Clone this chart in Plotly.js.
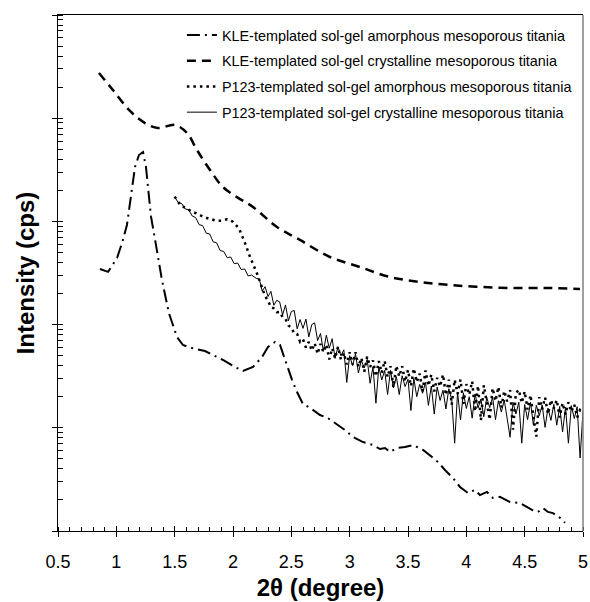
<!DOCTYPE html>
<html>
<head>
<meta charset="utf-8">
<script src="https://cdn.plot.ly/plotly-3.0.1.min.js"></script>
<style>html,body{margin:0;padding:0;background:#fff;}#chart{width:590px;height:602px;}</style>
</head>
<body>
<div id="chart"></div>
<script>
// Series names
const seriesNames = [
  "KLE-templated sol-gel amorphous mesoporous titania",
  "KLE-templated sol-gel crystalline mesoporous titania",
  "P123-templated sol-gel amorphous mesoporous titania",
  "P123-templated sol-gel crystalline mesoporous titania"
];

// KLE amorphous (dash-dot)
const kleAmX = [0.860,0.929,1.006,1.049,1.091,1.134,1.160,1.194,1.229,1.254,1.297,1.340,1.391,1.451,1.520,1.571,1.674,1.760,1.914,2.017,2.086,2.171,2.249,2.300,2.360,2.403,2.446,2.506,2.549,2.600,2.660,2.746,2.814,2.874,2.960,3.029,3.114,3.200,3.260,3.303,3.346,3.406,3.474,3.543,3.629,3.706,3.757,3.817,3.886,3.946,4.014,4.074,4.117,4.177,4.228,4.288,4.374,4.460,4.563,4.614,4.657,4.700,4.743,4.803,4.846];
const kleAmY = [346,324,442,618,923,2014,3365,4400,4700,3365,1117,590,270,129,75.8,63.4,58.0,55.5,45.4,38.8,35.5,38.8,48.5,60.7,67.8,63.4,45.4,29.1,22.2,17.0,15.6,13.3,12.4,11.1,9.52,8.15,7.28,6.81,6.23,6.37,5.83,6.37,6.51,6.81,6.10,5.21,4.66,3.90,3.26,2.67,2.33,2.50,2.23,2.39,2.09,2.14,1.91,1.87,1.60,1.53,1.67,1.53,1.49,1.34,1.20];

// KLE crystalline (dashed)
const kleCrX = [0.851,0.971,1.117,1.246,1.357,1.503,1.606,1.691,1.803,1.914,2.034,2.171,2.377,2.574,2.831,3.089,3.346,3.603,3.860,4.143,4.434,4.717,4.974];
const kleCrY = [27400,18750,11750,8970,8040,8590,7190,4920,3150,2150,1720,1380,883,661,452,361,289,259,242,231,226,226,221];

// P123 amorphous (dotted)
const p123AmX = [1.50,1.55,1.60,1.65,1.70,1.75,1.80,1.85,1.90,1.95,2.00,2.05,2.10,2.15,
  2.200,2.225,2.250,2.275,2.300,2.325,2.350,2.375,2.400,2.425,2.450,2.475,2.500,2.525,2.550,2.575,2.600,2.625,2.650,2.675,
  2.700,2.725,2.750,2.775,2.800,2.825,2.850,2.875,2.900,2.925,2.950,2.975,3.000,3.025,3.050,3.075,3.100,3.125,3.150,3.175,
  3.200,3.225,3.250,3.275,3.300,3.325,3.350,3.375,3.400,3.425,3.450,3.475,3.500,3.525,3.550,3.575,3.600,3.625,3.650,3.675,
  3.700,3.725,3.750,3.775,3.800,3.825,3.850,3.875,3.900,3.925,3.950,3.975,4.000,4.025,4.050,4.075,4.100,4.125,4.150,4.175,
  4.200,4.225,4.250,4.275,4.300,4.325,4.350,4.375,4.400,4.425,4.450,4.475,4.500,4.525,4.550,4.575,4.600,4.625,4.650,4.675,
  4.700,4.725,4.750,4.775,4.800,4.825,4.850,4.875,4.900,4.925,4.950,4.975,5.000];
const p123AmY = [1740,1430,1340,1240,1180,1100,1060,1020,1015,1050,990,860,630,440,
  325,274,232,189,171,147,144,132,133,118,113,98,94,82,81,68,72,60,68,56,
  66,52,65,54,64,46,59,47,61,46,53,41,54,41,54,39,47.5,35,49,38.8,
  45,31.4,44.3,34,44.6,31,39.5,24.7,39.9,31.4,39.5,28,36.3,25.4,37.6,27.7,33.4,22.4,35.9,25.5,
  32.8,22.5,30.5,25.1,32.8,20.7,29.3,16.8,29.2,21.3,29.3,17.1,26.5,20.9,28.2,14.4,25.6,11.8,25.8,17.7,
  12,24.2,18.2,24.9,15.7,22.8,18,23.2,9.6,21.7,23.4,17.4,22.5,15,20.8,12.9,8.2,19.8,15.1,19.7,
  13.6,18.6,15.4,18.6,12.6,17.4,13.5,17.7,14.3,16.8,12.6,14.9,14.3];

// P123 crystalline (solid)
const p123CrX = [1.50,1.53,1.56,1.59,1.62,1.65,1.68,1.71,1.74,1.77,1.80,1.83,1.86,1.89,1.92,1.95,1.98,2.01,2.04,2.07,2.10,2.13,2.16,
  2.200,2.225,2.250,2.275,2.300,2.325,2.350,2.375,2.400,2.425,2.450,2.475,2.500,2.525,2.550,2.575,2.600,2.625,2.650,2.675,
  2.700,2.725,2.750,2.775,2.800,2.825,2.850,2.875,2.900,2.925,2.950,2.975,3.000,3.025,3.050,3.075,3.100,3.125,3.150,3.175,
  3.200,3.225,3.250,3.275,3.300,3.325,3.350,3.375,3.400,3.425,3.450,3.475,3.500,3.525,3.550,3.575,3.600,3.625,3.650,3.675,
  3.700,3.725,3.750,3.775,3.800,3.825,3.850,3.875,3.900,3.925,3.950,3.975,4.000,4.025,4.050,4.075,4.100,4.125,4.150,4.175,
  4.200,4.225,4.250,4.275,4.300,4.325,4.350,4.375,4.400,4.425,4.450,4.475,4.500,4.525,4.550,4.575,4.600,4.625,4.650,4.675,
  4.700,4.725,4.750,4.775,4.800,4.825,4.850,4.875,4.900,4.925,4.950,4.975,5.000];
const p123CrY = [1720,1530,1490,1320,1300,1130,1090,930,910,770,755,635,620,522,512,445,452,390,394,342,346,296,302,
  280,278,211,233,187,210,154,172,166,124,155,109,134,137,91,112,92,113,76,100,
  104,70,82,55,79,59,73,47,61,50,57,27.5,50,40,52,34,45,38,46,27,
  39,17.3,39,29,36,21,36,24.3,31.3,21,31.9,25.1,29.5,14.7,30.1,20,26.4,21.6,27.6,16.5,
  25.4,13.6,24.8,18.4,23.1,15.2,23.9,18.5,7.1,22,11.9,21.8,15.4,20,12.4,21.3,15.6,19,12.8,19.7,
  15.7,19.8,12,18.3,14.2,18.6,12.3,8.1,17.7,13.6,17.7,7.1,16.8,12,17.6,10.6,16.5,13.1,16.6,10.1,
  15.5,11.8,16.9,10.6,16.1,9.1,15.8,7.1,16.4,12.3,16,5.1,14.5];

// Axis tick labels
const xTickVals = [0.5,1,1.5,2,2.5,3,3.5,4,4.5,5];
const xTickText = ["0.5","1","1.5","2","2.5","3","3.5","4","4.5","5"];

const FONT = "Liberation Sans, Arial, sans-serif";

const traces = [
  {x: kleAmX, y: kleAmY, name: seriesNames[0], legendgroup: "a", mode: "lines",
   line: {color: "#000", width: 2, dash: "13px,5px,2px,5px"}},
  {x: kleCrX, y: kleCrY, name: seriesNames[1], legendgroup: "b", mode: "lines",
   line: {color: "#000", width: 2.5, dash: "9px,6px", shape: "spline"}},
  {x: p123AmX, y: p123AmY, name: seriesNames[2], legendgroup: "c", mode: "lines",
   line: {color: "#000", width: 2.5, dash: "2.5px,4px"}},
  {x: p123CrX, y: p123CrY, name: seriesNames[3], legendgroup: "d", mode: "lines",
   line: {color: "#000", width: 1}},
  {x: [], y: [], xaxis: "x2", yaxis: "y2", mode: "none", showlegend: false, hoverinfo: "skip"}
];

const layout = {
  width: 590, height: 602,
  margin: {l: 58, r: 7, t: 15, b: 71, pad: 0},
  paper_bgcolor: "#fff", plot_bgcolor: "#fff",
  font: {family: FONT, color: "#000"},
  showlegend: true,
  legend: {
    x: 0.236, y: 0.992, xanchor: "left", yanchor: "top",
    bgcolor: "rgba(0,0,0,0)", borderwidth: 0,
    font: {family: FONT, size: 14.4, color: "#000"},
    traceorder: "grouped", tracegroupgap: 4
  },
  xaxis: {
    range: [0.5, 5], tickvals: xTickVals, ticktext: xTickText,
    ticks: "outside", ticklen: 5, tickwidth: 1, tickcolor: "#000",
    minor: {ticks: "inside", ticklen: 4, dtick: 0.1, tick0: 0.5, tickcolor: "#000", showgrid: false},
    showline: true, linecolor: "#000", linewidth: 1, mirror: true,
    showgrid: false, zeroline: false,
    tickfont: {family: FONT, size: 18, color: "#000"},
    ticklabelstandoff: 9,
    title: {text: "2θ (degree)", font: {family: FONT, size: 24, color: "#000", weight: "bold"}, standoff: 8}
  },
  yaxis: {
    type: "log", range: [0, 5], dtick: 1,
    ticks: "outside", ticklen: 5, tickwidth: 1, tickcolor: "#000",
    minor: {ticks: "inside", ticklen: 5, dtick: "D1", tickcolor: "#000", showgrid: false},
    showticklabels: false,
    showline: true, linecolor: "#000", linewidth: 1,
    showgrid: false, zeroline: false,
    title: {text: "Intensity (cps)", font: {family: FONT, size: 24, color: "#000", weight: "bold"}, standoff: 10}
  },
  xaxis2: {
    overlaying: "x", anchor: "y", side: "bottom", range: [0.5, 5], tickvals: xTickVals,
    ticks: "inside", ticklen: 5, tickcolor: "#000", showticklabels: false,
    showgrid: false, zeroline: false, showline: false
  },
  yaxis2: {
    overlaying: "y", anchor: "x", side: "left", type: "log", range: [0, 5], dtick: 1,
    ticks: "inside", ticklen: 5, tickcolor: "#000", showticklabels: false,
    showgrid: false, zeroline: false, showline: false
  },
  shapes: [
    {type: "line", xref: "paper", yref: "paper", x0: 1, x1: 1, y0: 0, y1: 1,
     line: {color: "#7f7f7f", width: 1.5}}
  ]
};

Plotly.newPlot("chart", traces, layout, {displayModeBar: false, staticPlot: true});
</script>
</body>
</html>
